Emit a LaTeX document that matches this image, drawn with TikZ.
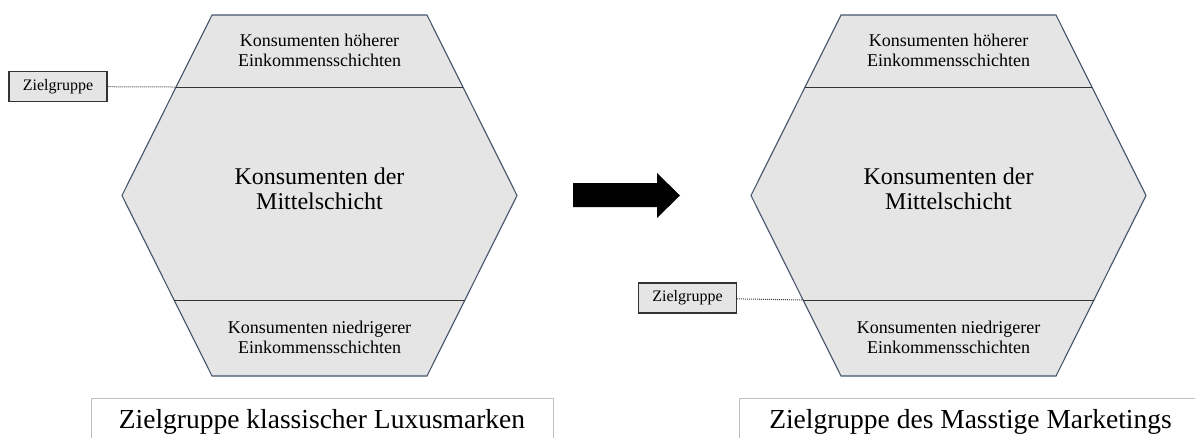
\documentclass[tikz,border=0pt]{standalone}
\usepackage{fontspec}
\setmainfont{Liberation Serif}
\usetikzlibrary{calc}
\colorlet{hexfill}{black!10}
\definecolor{hexline}{HTML}{44546A}
\colorlet{capline}{black!25}
\tikzstyle{hex}=[fill=hexfill,draw=hexline,line width=1.1pt,line join=miter]
\tikzstyle{cut}=[draw=black!80,line width=1pt]
\tikzstyle{small}=[align=center,inner sep=0pt,font=\fontsize{18}{20}\selectfont]
\tikzstyle{big}=[align=center,inner sep=0pt,font=\fontsize{24}{25}\selectfont]
\tikzstyle{tag}=[draw=black!80,fill=hexfill,line width=1.1pt,inner sep=0pt,
  minimum width=98pt,minimum height=30pt,font=\fontsize{16}{18}\selectfont]
\tikzstyle{lead}=[densely dotted,draw=black!75,line width=1pt]
\tikzstyle{caption}=[draw=capline,line width=1pt,inner sep=0pt,
  minimum width=462pt,minimum height=47pt,font=\fontsize{27.5}{30}\selectfont]

\begin{document}
\begin{tikzpicture}[x=1pt,y=-1pt]
	\useasboundingbox (0,0) rectangle (1195,437);
	% the two hexagons
	\foreach \n/\dx in {l/0,r/629}{
	  \coordinate (\n-tl) at (212+\dx,15);   \coordinate (\n-tr) at (427+\dx,15);
	  \coordinate (\n-l)  at (122+\dx,195.5); \coordinate (\n-r)  at (517+\dx,195.5);
	  \coordinate (\n-bl) at (212+\dx,376);  \coordinate (\n-br) at (427+\dx,376);
	  \draw[hex] (\n-tl) -- (\n-tr) -- (\n-r) -- (\n-br) -- (\n-bl) -- (\n-l) -- cycle;
	  \coordinate (\n-ul) at ($(\n-tl)!.399!(\n-l)$);  \coordinate (\n-ur) at ($(\n-tr)!.399!(\n-r)$);
	  \coordinate (\n-ll) at ($(\n-l)!.579!(\n-bl)$);  \coordinate (\n-lr) at ($(\n-r)!.579!(\n-br)$);
	  \draw[cut] (\n-ul) -- (\n-ur);
	  \draw[cut] (\n-ll) -- (\n-lr);
	  \node[small] (\n-upper) at (319.5+\dx,50.5) {Konsumenten höherer\\Einkommensschichten};
	  \node[big]   (\n-middle) at (319.5+\dx,189) {Konsumenten der\\Mittelschicht};
	  \node[small] (\n-lower) at (319.5+\dx,337) {Konsumenten niedrigerer\\Einkommensschichten};
	}
	% target group markers
	\node[tag] (l-tag) at (58,86.5) {Zielgruppe};
	\draw[lead] (l-tag) -- (l-ul);
	\node[tag] (r-tag) at (687.5,298) {Zielgruppe};
	\draw[lead] (r-tag) -- (r-ll);
	% block arrow
	\fill (573,183) -- (657,183) -- (657,173) -- (680,195.5) -- (657,218) -- (657,207) -- (573,207) -- cycle;
	% captions
	\node[caption] (l-cap) at (322,421.5) {Zielgruppe klassischer Luxusmarken};
	\node[caption] (r-cap) at (970.5,421.5) {Zielgruppe des Masstige Marketings};
\end{tikzpicture}
\end{document}
